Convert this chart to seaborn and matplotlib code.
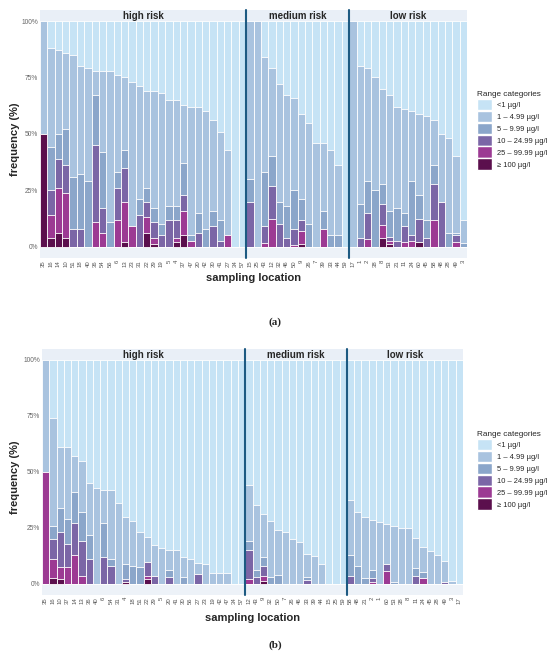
import matplotlib
matplotlib.use("Agg")
import matplotlib.pyplot as plt
from matplotlib.patches import Patch
from matplotlib.lines import Line2D
import seaborn as sns

sns.set_style("white")
plt.rcParams['font.family'] = ['Liberation Sans', 'DejaVu Sans']

# ---- data: % of samples at or above each threshold, per sampling location ----
range_labels = ["<1 µg/l", "1 – 4.99 µg/l", "5 – 9.99 µg/l",
                "10 – 24.99 µg/l", "25 – 99.99 µg/l", "≥ 100 µg/l"]
range_colors = ["#c6e3f5", "#a9c3df", "#8ba6ca", "#7b66a6", "#9c3a93", "#5b0f4d"]
facets = ["high risk", "medium risk", "low risk"]

# panel (a)
a_high_loc = ["35", "16", "14", "10", "51", "18", "40", "36", "54", "56", "6", "13", "23", "31",
              "22", "29", "19", "5", "4", "37", "47", "20", "42", "30", "41", "27", "34", "57"]
a_high_ge1 = [100, 88, 87, 86, 85, 80, 79, 78, 78, 78, 76, 75, 73, 71, 69, 69, 68, 65, 65, 63, 62, 62, 60, 56, 51, 43, 0, 0]
a_high_ge5 = [50, 44, 50, 52, 31, 32, 29, 67, 42, 11, 33, 43, 9, 21, 26, 17, 10, 18, 18, 37, 5, 15, 8, 16, 12, 5, 0, 0]
a_high_ge10 = [50, 25, 39, 36, 8, 8, 0, 45, 17, 0, 26, 35, 9, 14, 20, 11, 5, 12, 12, 23, 2.5, 6, 0, 9, 2.5, 5, 0, 0]
a_high_ge25 = [50, 14, 26, 24, 0, 0, 0, 11, 6, 0, 12, 20, 9, 0, 13, 4, 0, 0, 4, 16, 2.5, 0, 0, 0, 0, 5, 0, 0]
a_high_ge100 = [50, 4, 6, 4, 0, 0, 0, 0, 0, 0, 0, 2, 0, 0, 6, 1, 0, 0, 2, 5, 0, 0, 0, 0, 0, 0, 0, 0]

a_med_loc = ["15", "25", "43", "12", "32", "46", "50", "9", "26", "7", "39", "33", "44", "59"]
a_med_ge1 = [100, 100, 84, 79, 72, 67, 66, 59, 55, 46, 46, 43, 36, 0]
a_med_ge5 = [30, 0, 33, 40, 20, 18, 25, 21, 10, 0, 16, 5, 5, 0]
a_med_ge10 = [20, 0, 9, 27, 10, 4, 8, 12, 0, 0, 8, 0, 0, 0]
a_med_ge25 = [0, 0, 1.5, 12.5, 0, 0, 0.7, 7, 0, 0, 8, 0, 0, 0]
a_med_ge100 = [0, 0, 0, 0, 0, 0, 0, 1.2, 0, 0, 0, 0, 0, 0]

a_low_loc = ["17", "1", "2", "38", "8", "53", "21", "11", "24", "60", "45", "58", "48", "28", "49", "3"]
a_low_ge1 = [100, 80, 79, 75, 70, 67, 62, 61, 60, 59, 58, 56, 50, 48, 40, 12]
a_low_ge5 = [0, 19, 29, 25, 28, 16, 17, 15, 29, 23, 12, 36, 20, 6, 6, 1.6]
a_low_ge10 = [0, 4, 15, 0, 19, 4.4, 2.5, 9, 5, 12.5, 4, 28, 20, 0, 5, 0]
a_low_ge25 = [0, 0, 3.4, 0, 9.6, 2.5, 0, 2, 2.5, 2, 0, 12, 0, 0, 2, 0]
a_low_ge100 = [0, 0, 0, 0, 3.7, 1, 0, 0, 0, 2, 0, 0, 0, 0, 0, 0]

# panel (b)
b_high_loc = ["35", "16", "10", "37", "14", "13", "36", "40", "6", "54", "31", "4", "18", "51",
              "22", "29", "5", "20", "41", "30", "56", "27", "23", "19", "42", "47", "34", "57"]
b_high_ge1 = [100, 74, 61, 61, 57, 55, 45, 43, 42, 42, 36, 30, 28, 23, 21, 17.5, 16, 15, 15, 12, 11, 9.5, 9, 5, 5, 5, 0, 0]
b_high_ge5 = [50, 26, 34, 29, 41, 32, 22, 0, 27, 11, 0, 9, 8, 7.5, 9.6, 3.6, 0, 6, 0, 3, 0, 4.6, 0, 0, 0, 0, 0, 0]
b_high_ge10 = [50, 20, 23, 18, 27, 19, 11, 0, 12, 8, 0, 2, 0, 0, 9.6, 3.6, 0, 3, 0, 0, 0, 4.6, 0, 0, 0, 0, 0, 0]
b_high_ge25 = [50, 11, 7.6, 7.6, 13, 3.3, 0, 0, 0, 0, 0, 1, 0, 0, 3.3, 0, 0, 0, 0, 0, 0, 0, 0, 0, 0, 0, 0, 0]
b_high_ge100 = [0, 2.7, 2, 0, 0, 0, 0, 0, 0, 0, 0, 1, 0, 0, 2, 0, 0, 0, 0, 0, 0, 0, 0, 0, 0, 0, 0, 0]

b_med_loc = ["12", "43", "9", "32", "50", "7", "26", "46", "33", "39", "44", "15", "25", "59"]
b_med_ge1 = [44, 35, 31, 28, 24, 23, 20, 18.5, 13.4, 12.4, 9, 0, 0, 0]
b_med_ge5 = [19, 6, 12, 3, 4, 0, 0, 0, 3, 0, 0, 0, 0, 0]
b_med_ge10 = [15, 3, 8, 0, 0, 0, 0, 0, 1.8, 0, 0, 0, 0, 0]
b_med_ge25 = [2, 0, 3.6, 0, 0, 0, 0, 0, 0, 0, 0, 0, 0, 0]
b_med_ge100 = [0, 0, 1.2, 0, 0, 0, 0, 0, 0, 0, 0, 0, 0, 0]

b_low_loc = ["58", "48", "21", "2", "1", "60", "53", "38", "8", "11", "24", "45", "28", "49", "3", "17"]
b_low_ge1 = [37.5, 32, 30, 28.5, 27.5, 26.7, 26, 25, 25, 20.4, 16.3, 14.8, 12.8, 10, 1.3, 0]
b_low_ge5 = [13, 8, 2.4, 6, 0, 9, 1, 0, 0, 7, 5.4, 0, 0, 1, 0, 0]
b_low_ge10 = [3.6, 0, 0, 2.4, 0, 9, 0, 0, 0, 3.6, 2.7, 0, 0, 1, 0, 0]
b_low_ge25 = [0, 0, 0, 1, 0, 5.7, 0, 0, 0, 0, 2.7, 0, 0, 0, 0, 0]
b_low_ge100 = [0, 0, 0, 0, 0, 0, 0, 0, 0, 0, 0, 0, 0, 0, 0, 0]

panel_a = [
    (a_high_loc, [a_high_ge1, a_high_ge5, a_high_ge10, a_high_ge25, a_high_ge100]),
    (a_med_loc, [a_med_ge1, a_med_ge5, a_med_ge10, a_med_ge25, a_med_ge100]),
    (a_low_loc, [a_low_ge1, a_low_ge5, a_low_ge10, a_low_ge25, a_low_ge100]),
]
panel_b = [
    (b_high_loc, [b_high_ge1, b_high_ge5, b_high_ge10, b_high_ge25, b_high_ge100]),
    (b_med_loc, [b_med_ge1, b_med_ge5, b_med_ge10, b_med_ge25, b_med_ge100]),
    (b_low_loc, [b_low_ge1, b_low_ge5, b_low_ge10, b_low_ge25, b_low_ge100]),
]

W, H = 550, 655
fig = plt.figure(figsize=(W / 100, H / 100), dpi=100)


def rect(x0, y0, x1, y1):
    return [x0 / W, 1 - y1 / H, (x1 - x0) / W, (y1 - y0) / H]


def draw_panel(data, x0, x1, strip_top, y_top, y_bot, xlab_y, cap_y, cap, leg_y):
    ntot = sum(len(loc) for loc, _ in data)
    step = (x1 - x0) / ntot
    fx = x0
    bounds = []
    for k, (loc, layers) in enumerate(data):
        fw = step * len(loc)
        ax = fig.add_axes(rect(fx, y_top, fx + fw, y_bot))
        ax.set_facecolor("#edf2f8")
        # every location sums to 100 %: the "<1" share fills the rest
        total = [100] * len(loc)
        for vals, col in zip([total] + layers, range_colors):
            sns.barplot(x=loc, y=vals, order=loc, color=col, saturation=1,
                        width=1, edgecolor="white", linewidth=0.6, ax=ax)
        ax.set_ylim(-5, 100)
        ax.set_xlim(-0.5, len(loc) - 0.5)
        for s in ax.spines.values():
            s.set_visible(False)
        ax.set_xlabel("")
        ax.set_ylabel("")
        ax.tick_params(length=0, pad=1.5)
        ax.set_xticks(range(len(loc)))
        ax.set_xticklabels(loc, rotation=90, fontsize=4.3, color="#555555")
        if k == 0:
            ax.set_yticks([0, 25, 50, 75, 100])
            ax.set_yticklabels(["0%", "25%", "50%", "75%", "100%"], fontsize=4.8, color="#666666")
        else:
            ax.set_yticks([])
        sax = fig.add_axes(rect(fx, strip_top, fx + fw, y_top))
        sax.set_facecolor("#e9eff7")
        sax.set_xticks([])
        sax.set_yticks([])
        for s in sax.spines.values():
            s.set_visible(False)
        sax.text(0.5, 0.45, facets[k], ha="center", va="center", fontsize=7,
                 fontweight="bold", transform=sax.transAxes)
        fx += fw
        bounds.append(fx)
    # panel separators
    for b in bounds[:-1]:
        fig.add_artist(Line2D([b / W, b / W], [1 - strip_top / H, 1 - y_bot / H],
                              color="#1d5a82", lw=1.5, transform=fig.transFigure))
    fig.text(15 / W, 1 - ((y_top + y_bot) / 2) / H, "frequency (%)", rotation=90,
             ha="center", va="center", fontsize=8, fontweight="bold")
    fig.text(((x0 + x1) / 2) / W, 1 - xlab_y / H, "sampling location",
             ha="center", va="center", fontsize=8, fontweight="bold")
    fig.text(275 / W, 1 - cap_y / H, cap, ha="center", va="center", fontsize=8,
             family="Liberation Serif", fontweight="bold")
    handles = [Patch(facecolor=c, edgecolor="white") for c in range_colors]
    fig.legend(handles, range_labels, title="Range categories", loc="upper left",
               bbox_to_anchor=(472 / W, 1 - leg_y / H), frameon=False, fontsize=5.4,
               title_fontsize=5.9, handlelength=1.9, handleheight=2.0,
               labelspacing=0.05, handletextpad=0.7, alignment="left",
               borderaxespad=0.3)


draw_panel(panel_a, 40, 467, 10, 21, 258, 278, 322, "(a)", 86)
draw_panel(panel_b, 42, 463, 349, 360, 595, 618, 645, "(b)", 426)

fig.savefig("out.png", dpi=100)
